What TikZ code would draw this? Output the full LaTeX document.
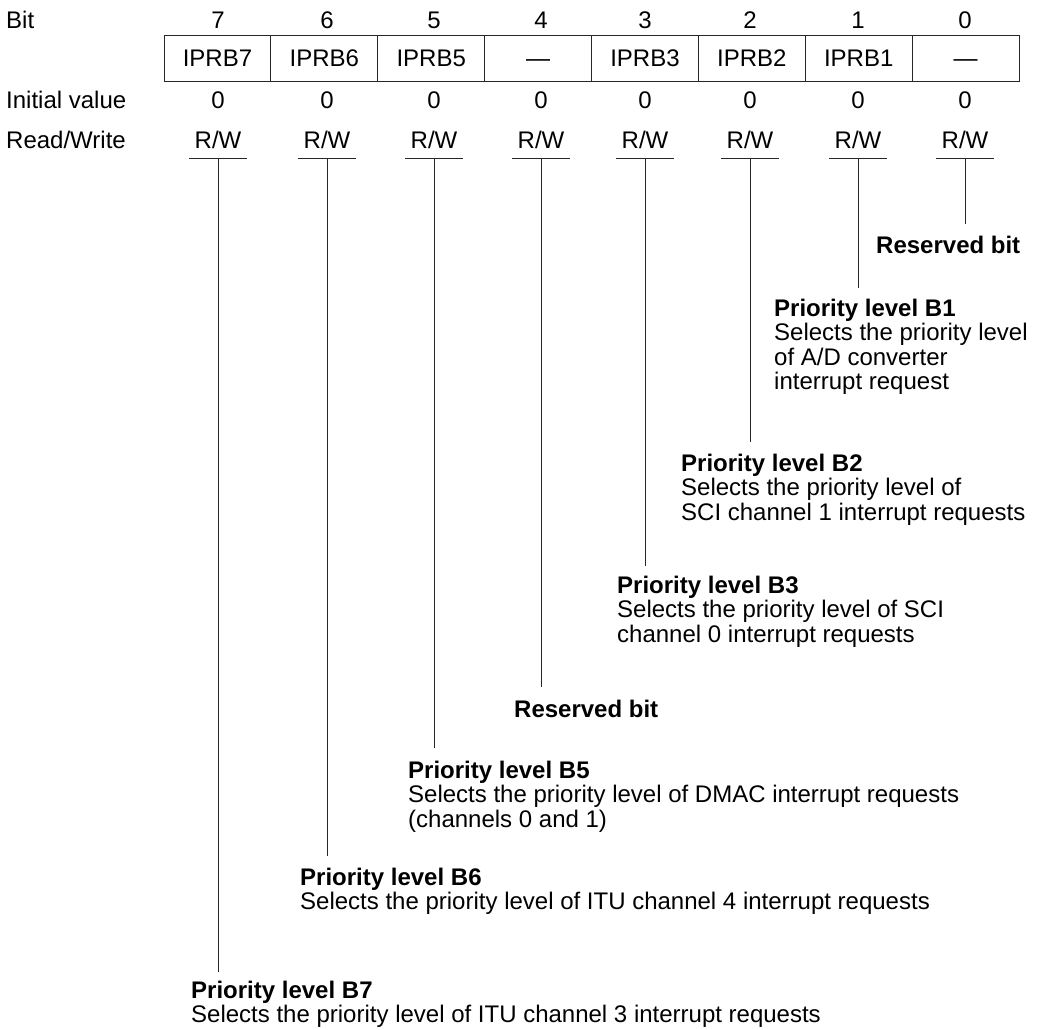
\documentclass[tikz,border=0pt]{standalone}
\usepackage{fontspec}
\setmainfont{Liberation Sans}
\begin{document}
\begin{tikzpicture}[x=1pt,y=-1pt,
  txt/.style={inner sep=0pt, font=\fontsize{24}{24}\selectfont},
  lbl/.style={txt, anchor=base west},
  ctr/.style={txt, anchor=base},
  cell/.style={txt, draw=black!85, line width=1pt, minimum width=106.875pt, minimum height=46pt, text height=17pt, text depth=0pt, anchor=center},
  desc/.style={txt, anchor=base west},
  ln/.style={line width=1pt, black!85}]
\useasboundingbox (0,0) rectangle (1040,1029);

% row labels
\node[lbl] (bitlbl) at (6,28) {Bit};
\node[lbl] (initlbl) at (6,108) {Initial value};
\node[lbl] (rwlbl) at (6,148) {Read/Write};

% register cells
\foreach \i/\t in {7/IPRB7,6/IPRB6,5/IPRB5,4/—,3/IPRB3,2/IPRB2,1/IPRB1,0/—}{
  \node[cell] (cell\i) at ({164+106.875*(7-\i)+53.4375},58) {\t};
}

% columns
\foreach \i/\x in {7/218,6/327,5/434,4/541,3/645,2/750,1/858,0/965}{
  \node[ctr] (num\i) at (\x,28) {\i};
  \node[ctr] (init\i) at (\x,108) {0};
  \node[ctr] (rw\i) at (\x,148) {R/W};
  \coordinate (u\i) at (\x,158);
  \draw[ln] ([xshift=-29pt]u\i) -- ([xshift=29pt]u\i);
}

% descriptions
\node[desc] (d0) at (876,253) {\textbf{Reserved bit}};
\node[desc] (d1) at (774,316) {\begin{tabular}[t]{@{}l@{}}\textbf{Priority level B1}\\Selects the priority level\\of A/D converter\\interrupt request\end{tabular}};
\node[desc] (d2) at (681,471) {\begin{tabular}[t]{@{}l@{}}\textbf{Priority level B2}\\Selects the priority level of\\SCI channel 1 interrupt requests\end{tabular}};
\node[desc] (d3) at (617,593) {\begin{tabular}[t]{@{}l@{}}\textbf{Priority level B3}\\Selects the priority level of SCI\\channel 0 interrupt requests\end{tabular}};
\node[desc] (d4) at (514,717) {\textbf{Reserved bit}};
\node[desc] (d5) at (408,778) {\begin{tabular}[t]{@{}l@{}}\textbf{Priority level B5}\\Selects the priority level of DMAC interrupt requests\\(channels 0 and 1)\end{tabular}};
\node[desc] (d6) at (300,885) {\begin{tabular}[t]{@{}l@{}}\textbf{Priority level B6}\\Selects the priority level of ITU channel 4 interrupt requests\end{tabular}};
\node[desc] (d7) at (191,998) {\begin{tabular}[t]{@{}l@{}}\textbf{Priority level B7}\\Selects the priority level of ITU channel 3 interrupt requests\end{tabular}};

% leader lines
\foreach \i/\x/\y in {7/218/972,6/327/856,5/434/748,4/541/687,3/645/566,2/750/442,1/858/288,0/965/224}{
  \coordinate (e\i) at (\x,\y);
  \draw[ln] (u\i) -- (e\i);
}
\end{tikzpicture}
\end{document}
